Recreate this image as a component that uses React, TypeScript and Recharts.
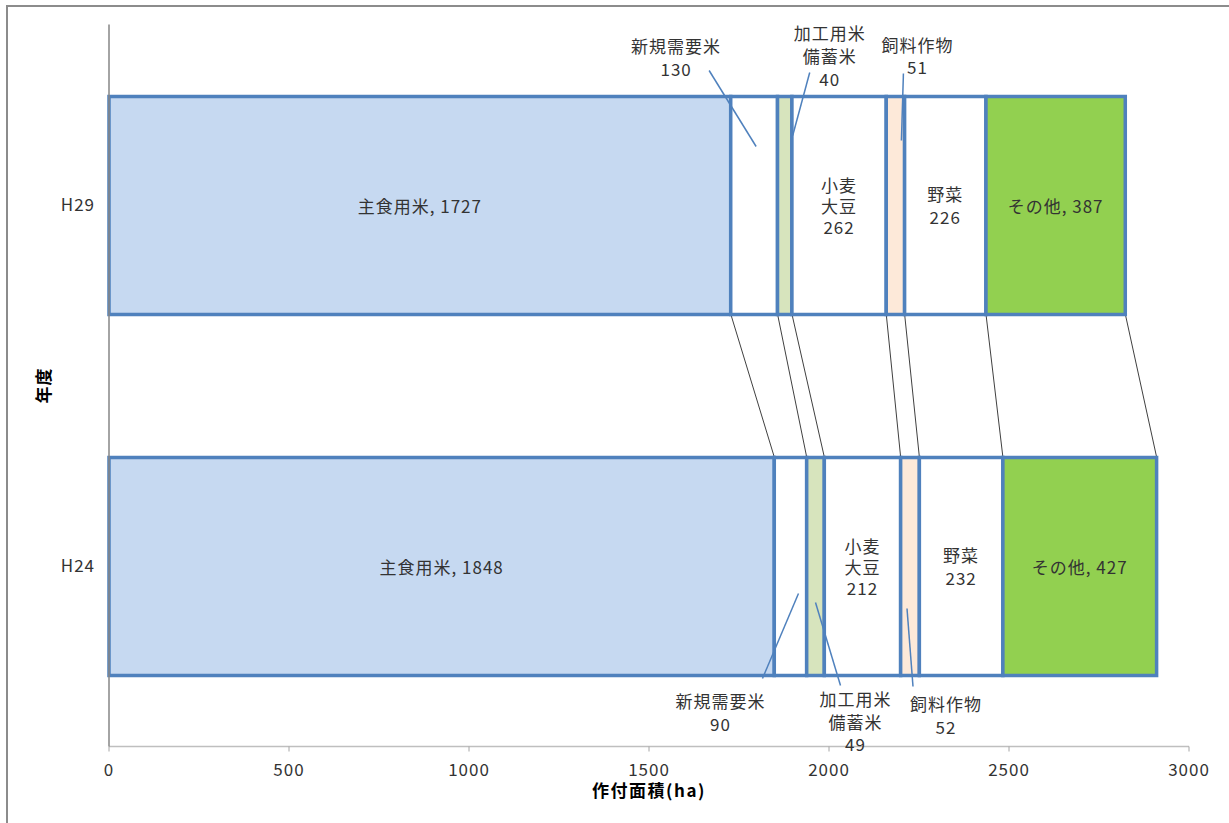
import React from 'react';
import { BarChart, Bar, XAxis, YAxis, ReferenceLine, LabelList, Label } from 'recharts';

const years = ['H29', 'H24'];
const shushoku = [1727, 1848];
const shinki = [130, 90];
const kakou = [40, 49];
const mugi = [262, 212];
const shiryou = [51, 52];
const yasai = [226, 232];
const sonota = [387, 427];
const xTicks = [0, 500, 1000, 1500, 2000, 2500, 3000];

const seriesKeys = ['shushoku', 'shinki', 'kakou', 'mugi', 'shiryou', 'yasai', 'sonota'];
const seriesValues = [shushoku, shinki, kakou, mugi, shiryou, yasai, sonota];
const seriesNames = [['主食用米'], ['新規需要米'], ['加工用米', '備蓄米'], ['小麦', '大豆'], ['飼料作物'], ['野菜'], ['その他']];
const seriesFills = ['#C6D9F1', '#FFFFFF', '#D7E4BD', '#FFFFFF', '#FDE9D9', '#FFFFFF', '#92D050'];

const data = years.map((y, i) => {
  const row: any = { year: y };
  seriesKeys.forEach((k, j) => { row[k] = seriesValues[j][i]; });
  return row;
});

// layout constants
const W = 1229;
const H = 823;
const M = { top: 24.5, right: 40, bottom: 21.5, left: 0 };
const X_AXIS_H = 55;
const BAR = 218;

// cumulative boundaries for series lines
const cum = (i: number) => {
  let s = 0;
  return seriesValues.map((v) => (s += v[i]));
};
const cumTop = cum(0);
const cumBot = cum(1);

const FONT = "'Noto Sans CJK JP', 'Noto Sans', sans-serif";
const TXT = '#333333';
const BLUE = '#4F81BD';

// outside label placements (relative to segment centre and bar edge)
const outside: Record<string, { side: 'top' | 'bottom'; dx: number; lines: number[]; l: number[] }> = {
  'shinki-0': { side: 'top', dx: -78, lines: [-51, -28], l: [-45, -26, 2, 50] },
  'kakou-0': { side: 'top', dx: 45, lines: [-64, -41, -18], l: [25, -24, 8, 39] },
  'shiryou-0': { side: 'top', dx: 22, lines: [-52, -30], l: [8, -23, 6, 44] },
  'shinki-1': { side: 'bottom', dx: -70, lines: [25, 48], l: [8, -82, -28, 3] },
  'kakou-1': { side: 'bottom', dx: 40, lines: [23, 46, 68], l: [0, -73, 25, 10] },
  'shiryou-1': { side: 'bottom', dx: 36, lines: [28, 51], l: [-3, -67, 3, 11] },
};

const labelStyle = { fontSize: 17, letterSpacing: 1, fill: TXT, fontFamily: FONT };

const makeLabel = (j: number) => (props: any) => {
  const vb = props.viewBox || props;
  const x = Number(vb.x ?? props.x);
  const y = Number(vb.y ?? props.y);
  const w = Number(vb.width ?? props.width);
  const h = Number(vb.height ?? props.height);
  const idx = props.index;
  if (idx === undefined || idx === null) return null;
  const v = seriesValues[j][idx];
  const names = seriesNames[j];
  const cx = x + w / 2;
  const cy = y + h / 2;
  const key = `${seriesKeys[j]}-${idx}`;
  const o = outside[key];
  if (o) {
    const refY = o.side === 'top' ? y : y + h;
    const lines = [...names, String(v)];
    return (
      <g>
        <line x1={cx + o.l[0]} y1={refY + o.l[1]} x2={cx + o.l[2]} y2={refY + o.l[3]} stroke={BLUE} strokeWidth={1.5} />
        {lines.map((t, n) => (
          <text key={n} x={cx + o.dx} y={refY + o.lines[n]} textAnchor="middle" dominantBaseline="central" style={labelStyle}>
            {t}
          </text>
        ))}
      </g>
    );
  }
  let lines: string[];
  let offs: number[];
  if (names.length === 1 && (j === 0 || j === 6)) {
    lines = [`${names[0]}, ${v}`];
    offs = [0];
  } else {
    lines = [...names, String(v)];
    offs = lines.length === 3 ? [-21, 0, 21] : [-12, 11];
  }
  return (
    <g>
      {lines.map((t, n) => (
        <text key={n} x={cx} y={cy + offs[n]} textAnchor="middle" dominantBaseline="central" style={labelStyle}>
          {t}
        </text>
      ))}
    </g>
  );
};

// series line: from bottom edge of upper bar to top edge of lower bar
const seriesLineShape = (props: any) => {
  const { x1, y1, x2, y2 } = props;
  if ([x1, y1, x2, y2].some((v) => typeof v !== 'number' || isNaN(v))) return <g />;
  return <line x1={x1} y1={y1 + BAR / 2} x2={x2} y2={y2 - BAR / 2} stroke="#404040" strokeWidth={1} />;
};

const YTitle = (props: any) => {
  const vb = props.viewBox || { x: 0, y: M.top, width: 109, height: 722 };
  const x = vb.x + 42;
  const y = vb.y + vb.height / 2;
  return (
    <text x={x} y={y} transform={`rotate(-90, ${x}, ${y})`} textAnchor="middle" dominantBaseline="central"
      style={{ fontSize: 17, letterSpacing: 1, fontWeight: 'bold', fill: '#000', fontFamily: FONT }}>
      年度
    </text>
  );
};

export default function App() {
  return (
    <div style={{ position: 'absolute', left: 0, top: 0, width: W, height: H, overflow: 'hidden', background: '#fff', fontFamily: FONT }}>
      <div style={{ position: 'absolute', left: 6, top: 5, width: 1400, height: 1000, border: '2px solid #8C8C8C' }} />
      <div style={{ position: 'absolute', left: 0, top: 0 }}>
        <BarChart width={W} height={H} data={data} layout="vertical" margin={M} barSize={BAR}>
          <XAxis type="number" domain={[0, 3000]} ticks={xTicks} interval={0} height={X_AXIS_H}
            axisLine={{ stroke: '#BFBFBF', strokeWidth: 1.5 }} tickLine={{ stroke: '#A6A6A6' }} tickSize={5} tickMargin={12}
            tick={{ fill: TXT, fontSize: 17, letterSpacing: 1, fontFamily: FONT }}>
            <Label value="作付面積(ha)" position="insideBottom" offset={5}
              style={{ fontWeight: 'bold', fill: '#000', fontSize: 17, letterSpacing: 1.5, fontFamily: FONT }} />
          </XAxis>
          <YAxis type="category" dataKey="year" width={109} axisLine={{ stroke: '#868686', strokeWidth: 1.5 }} tickLine={false}
            tickMargin={8} tick={{ fill: TXT, fontSize: 17, letterSpacing: 1, fontFamily: FONT }}>
            <Label content={YTitle} />
          </YAxis>
          {cumTop.map((c1, j) => (
            <ReferenceLine key={`sl${j}`} ifOverflow="visible" zIndex={0}
              segment={[{ x: c1, y: years[0] }, { x: cumBot[j], y: years[1] }]}
              shape={seriesLineShape} stroke="#404040" strokeWidth={1} />
          ))}
          {seriesKeys.map((key, j) => (
            <Bar key={key} dataKey={key} stackId="a" fill={seriesFills[j]} stroke={BLUE} strokeWidth={3.5} isAnimationActive={false}>
              <LabelList dataKey={key} content={makeLabel(j)} />
            </Bar>
          ))}
        </BarChart>
      </div>
    </div>
  );
}
